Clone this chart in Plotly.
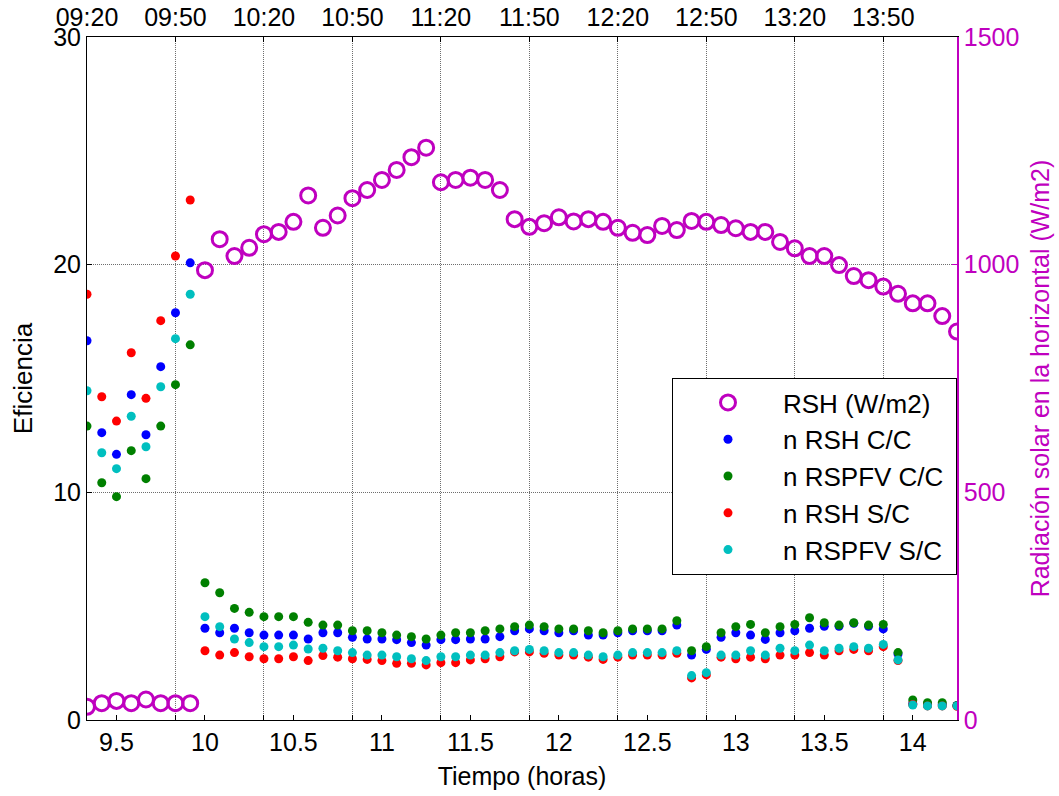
import plotly.graph_objects as go

# --- data -----------------------------------------------------------------
time_labels = [
    "09:20", "09:25", "09:30", "09:35", "09:40", "09:45", "09:50", "09:55",
    "10:00", "10:05", "10:10", "10:15", "10:20", "10:25", "10:30", "10:35",
    "10:40", "10:45", "10:50", "10:55", "11:00", "11:05", "11:10", "11:15",
    "11:20", "11:25", "11:30", "11:35", "11:40", "11:45", "11:50", "11:55",
    "12:00", "12:05", "12:10", "12:15", "12:20", "12:25", "12:30", "12:35",
    "12:40", "12:45", "12:50", "12:55", "13:00", "13:05", "13:10", "13:15",
    "13:20", "13:25", "13:30", "13:35", "13:40", "13:45", "13:50", "13:55",
    "14:00", "14:05", "14:10", "14:15",
]

rsh_wm2 = [
    29, 37, 42, 37, 45, 37, 37, 37,
    988, 1056, 1019, 1037, 1067, 1072, 1094, 1152, 1081, 1108, 1146, 1164,
    1186, 1208, 1236, 1257, 1181, 1186, 1191, 1186, 1164, 1100, 1083, 1091,
    1104, 1095, 1100, 1094, 1081, 1070, 1065, 1085, 1076, 1096, 1094, 1087,
    1080, 1072, 1072, 1050, 1036, 1019, 1019, 999, 975, 966, 952, 936,
    915, 915, 887, 853,
]

n_rsh_cc = [
    16.66, 12.62, 11.67, 14.29, 12.53, 15.52, 17.89, 20.08,
    4.03, 3.83, 4.03, 3.83, 3.73, 3.73, 3.73, 3.56, 3.83, 3.83, 3.63, 3.56,
    3.56, 3.53, 3.40, 3.29, 3.53, 3.53, 3.56, 3.56, 3.66, 3.92, 4.00, 3.92,
    3.83, 3.92, 3.73, 3.73, 3.83,
    3.92, 3.92, 3.92, 4.17, 2.85, 3.10, 3.63, 3.83, 3.73, 3.54, 3.83, 3.92,
    4.03, 4.12, 4.12, 4.25, 4.12, 4.00, 2.90, 0.72, 0.68, 0.68, 0.64,
]

n_rspfv_cc = [
    12.91, 10.42, 9.81, 11.83, 10.60, 12.91, 14.73, 16.48,
    6.03, 5.59, 4.90, 4.73, 4.54, 4.54, 4.54, 4.29, 4.17, 4.17, 3.92, 3.92,
    3.83, 3.73, 3.66, 3.56, 3.73, 3.83, 3.83, 3.92, 4.00, 4.10, 4.17, 4.10,
    4.00, 4.00, 3.92, 3.83, 3.92,
    4.00, 4.00, 4.00, 4.36, 3.04, 3.22, 3.83, 4.10, 4.20, 3.83, 4.10, 4.20,
    4.49, 4.27, 4.17, 4.27, 4.17, 4.20, 2.96, 0.88, 0.76, 0.76, 0.64,
]

n_rsh_sc = [
    18.70, 14.20, 13.13, 16.13, 14.13, 17.54, 20.38, 22.84,
    3.04, 2.85, 2.96, 2.78, 2.69, 2.69, 2.78, 2.61, 2.83, 2.76, 2.69, 2.66,
    2.61, 2.49, 2.49, 2.42, 2.52, 2.52, 2.64, 2.69, 2.78, 2.99, 2.99, 2.93,
    2.85, 2.85, 2.76, 2.66, 2.76,
    2.85, 2.85, 2.85, 2.93, 1.85, 1.98, 2.76, 2.69, 2.76, 2.69, 2.85, 2.85,
    2.96, 2.85, 3.04, 3.10, 3.04, 3.22, 2.61, 0.68, 0.62, 0.62, 0.60,
]

n_rspfv_sc = [
    14.46, 11.74, 11.04, 13.34, 12.00, 14.64, 16.75, 18.70,
    4.54, 4.10, 3.56, 3.40, 3.22, 3.22, 3.29, 3.12, 3.15, 3.04, 2.96, 2.85,
    2.85, 2.78, 2.69, 2.61, 2.78, 2.78, 2.85, 2.85, 2.96, 3.04, 3.10, 3.04,
    2.96, 2.96, 2.85, 2.78, 2.85,
    2.96, 2.96, 2.96, 3.04, 1.95, 2.08, 2.85, 2.85, 3.04, 2.85, 3.15, 3.04,
    3.29, 3.04, 3.15, 3.22, 3.15, 3.32, 2.64, 0.66, 0.62, 0.62, 0.62,
]

bottom_ticks = [9.5, 10, 10.5, 11, 11.5, 12, 12.5, 13, 13.5, 14]
top_tick_labels = ["09:20", "09:50", "10:20", "10:50", "11:20",
                   "11:50", "12:20", "12:50", "13:20", "13:50"]
left_ticks = [0, 10, 20, 30]
right_ticks = [0, 500, 1000, 1500]


def to_hours(s):
    h, m = s.split(":")
    return int(h) + int(m) / 60.0


t_hours = [to_hours(s) for s in time_labels]
top_tick_vals = [to_hours(s) for s in top_tick_labels]

# --- styling ----------------------------------------------------------------
MAG = "#BF00BF"
FONT = "Arial, Liberation Sans, sans-serif"
FS = 25
GRID = "#6e6e6e"
GDASH = "1px,1px"
PAD = "\u00a0"  # invisible padding so the legend box matches the original width

fig = go.Figure()

fig.add_trace(go.Scatter(
    x=t_hours, y=rsh_wm2, mode="markers", name="RSH (W/m2)" + PAD,
    xaxis="x2", yaxis="y2", legendgroup="a",
    marker=dict(symbol="circle-open", size=15, color=MAG,
                line=dict(width=3, color=MAG)),
))
series = [
    ("n RSH C/C", n_rsh_cc, "#0000FF", "b"),
    ("n RSPFV C/C", n_rspfv_cc, "#008000", "c"),
    ("n RSH S/C", n_rsh_sc, "#FF0000", "d"),
    ("n RSPFV S/C", n_rspfv_sc, "#00BFBF", "e"),
]
for name, vals, col, grp in series:
    fig.add_trace(go.Scatter(
        x=t_hours, y=vals, mode="markers", name=name + PAD,
        xaxis="x", yaxis="y", legendgroup=grp,
        marker=dict(symbol="circle", size=9, color=col, line=dict(width=0)),
    ))

xr = [t_hours[0], t_hours[-1]]

fig.update_layout(
    width=1059, height=796,
    margin=dict(l=87, r=102, t=37, b=76, autoexpand=False),
    plot_bgcolor="white", paper_bgcolor="white",
    font=dict(family=FONT, size=FS, color="black"),
    showlegend=True,
    legend=dict(
        x=1, xanchor="right", y=0.5007, yanchor="top",
        bgcolor="white", bordercolor="black", borderwidth=1,
        font=dict(family=FONT, size=26, color="black"),
        itemwidth=100, tracegroupgap=1, traceorder="normal",
    ),
    xaxis=dict(
        range=xr, tickmode="array", tickvals=bottom_ticks,
        ticktext=[f"{v:g}" for v in bottom_ticks],
        ticks="inside", ticklen=5, tickcolor="black",
        showline=True, linecolor="black", linewidth=1,
        showgrid=False, zeroline=False, automargin=False,
        title=dict(text="Tiempo (horas)", standoff=12, font=dict(size=25)),
        tickfont=dict(size=FS),
    ),
    xaxis2=dict(
        range=xr, overlaying="x", side="top", anchor="y2",
        tickmode="array", tickvals=top_tick_vals, ticktext=top_tick_labels,
        ticks="inside", ticklen=5, tickcolor="black", mirror="ticks",
        showline=True, linecolor="black", linewidth=1,
        showgrid=True, gridcolor=GRID, griddash=GDASH, gridwidth=1,
        zeroline=False, automargin=False, tickfont=dict(size=FS),
    ),
    yaxis=dict(
        range=[0, 30], tickmode="array", tickvals=left_ticks,
        ticks="inside", ticklen=5, tickcolor="black",
        showline=True, linecolor="black", linewidth=1,
        showgrid=True, gridcolor=GRID, griddash=GDASH, gridwidth=1,
        zeroline=False, automargin=False,
        title=dict(text="Eficiencia", standoff=13, font=dict(size=26)),
        tickfont=dict(size=FS),
    ),
    yaxis2=dict(
        range=[0, 1500], overlaying="y", side="right", anchor="x2",
        tickmode="array", tickvals=right_ticks,
        ticks="inside", ticklen=5, tickcolor=MAG,
        showline=True, linecolor=MAG, linewidth=1.5,
        showgrid=False, zeroline=False, automargin=False,
        tickfont=dict(size=FS, color=MAG),
        title=dict(text="Radiación solar en la horizontal (W/m2)",
                   font=dict(color=MAG, size=25), standoff=13),
    ),
)

fig.write_html("out.html")
